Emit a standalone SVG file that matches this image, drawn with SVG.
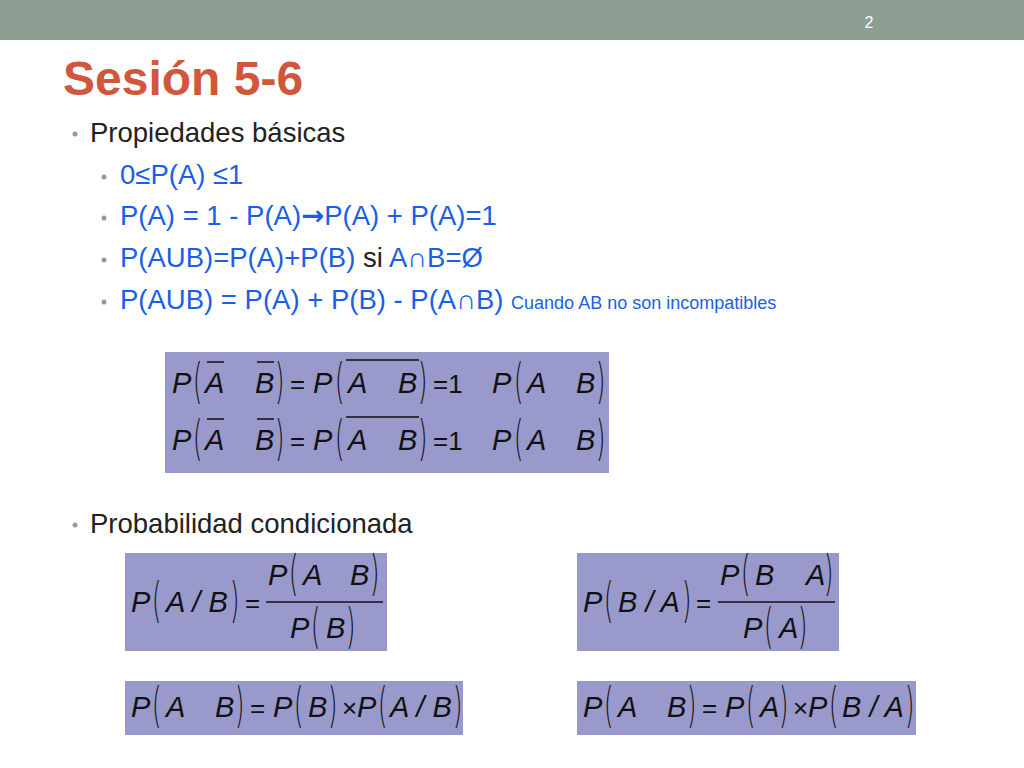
<svg xmlns="http://www.w3.org/2000/svg" width="1024" height="768" viewBox="0 0 1024 768">
<style>
.b{font-family:"Liberation Sans",Arial,sans-serif;font-size:27.5px;fill:#1a5fe6}
.k{fill:#222}
.dot{fill:#999}
.m{font-family:"Liberation Sans",Arial,sans-serif;font-size:29px;font-style:italic;fill:#111}
.n{font-family:"Liberation Sans",Arial,sans-serif;font-size:26px;fill:#111}
.p{font-family:"DejaVu Sans",sans-serif;font-size:30px;font-weight:200;fill:#111}
.box{fill:#9999cc}
.ln{stroke:#111;stroke-width:1.5}
</style>
<rect width="1024" height="768" fill="#fff"/>
<rect width="1024" height="40" fill="#8c9e92"/>
<text x="869" y="28" font-family="Liberation Sans,Arial,sans-serif" font-size="16" fill="#fff" text-anchor="middle">2</text>
<text x="63" y="95" font-family="Liberation Sans,Arial,sans-serif" font-size="48" font-weight="bold" fill="#d0563c">Sesión 5-6</text>
<g id="bullets">
<circle class="dot" cx="75" cy="134" r="2.5"/>
<text x="90" y="142" font-family="Liberation Sans,Arial,sans-serif" font-size="27.5" fill="#222">Propiedades básicas</text>
<circle class="dot" cx="104" cy="177" r="2.5"/>
<text class="b" x="120" y="184">0≤P(A) ≤1</text>
<circle class="dot" cx="104" cy="218" r="2.5"/>
<text class="b" x="120" y="225">P(A) = 1 - P(A)<tspan font-family="DejaVu Sans,sans-serif" font-weight="bold">→</tspan>P(A) + P(A)=1</text>
<circle class="dot" cx="104" cy="260" r="2.5"/>
<text class="b" x="120" y="267">P(AUB)=P(A)+P(B) <tspan class="k">si</tspan> A∩B=Ø</text>
<circle class="dot" cx="104" cy="302" r="2.5"/>
<text class="b" x="120" y="309">P(AUB) = P(A) + P(B) - P(A∩B) <tspan font-size="18">Cuando AB no son incompatibles</tspan></text>
<circle class="dot" cx="75" cy="525" r="2.5"/>
<text x="90" y="533" font-family="Liberation Sans,Arial,sans-serif" font-size="27.5" fill="#222">Probabilidad condicionada</text>
</g>
<g id="box1">
<rect class="box" x="165" y="352" width="444" height="121"/>
<g id="row1">
<text class="m" x="172" y="393">P</text><text class="p" transform="translate(193,398) scale(0.8,1.6)">(</text>
<text class="m" x="205" y="393">A</text><text class="m" x="255" y="393">B</text>
<line class="ln" x1="207" y1="362" x2="224" y2="362"/><line class="ln" x1="257" y1="362" x2="274" y2="362"/>
<text class="p" transform="translate(275,398) scale(0.8,1.6)">)</text><text class="n" x="290" y="393">=</text>
<text class="m" x="313" y="393">P</text><text class="p" transform="translate(335,398) scale(0.8,1.6)">(</text>
<text class="m" x="348" y="393">A</text><text class="m" x="398" y="393">B</text>
<line class="ln" x1="346" y1="360" x2="419" y2="360"/>
<text class="p" transform="translate(418,398) scale(0.8,1.6)">)</text><text class="n" x="433" y="393">=1</text>
<text class="m" x="492" y="393">P</text><text class="p" transform="translate(514,398) scale(0.8,1.6)">(</text>
<text class="m" x="527" y="393">A</text><text class="m" x="576" y="393">B</text>
<text class="p" transform="translate(596,398) scale(0.8,1.6)">)</text>
</g>
<use href="#row1" y="57"/>
</g>
<g id="box2">
<rect class="box" x="125" y="553" width="262" height="98"/>
<text class="m" x="131" y="612">P</text><text class="p" transform="translate(152,617) scale(0.8,1.6)">(</text>
<text class="m" x="166" y="612">A / B</text><text class="p" transform="translate(230,617) scale(0.8,1.6)">)</text>
<text class="n" x="245" y="612">=</text>
<text class="m" x="268" y="585">P</text><text class="p" transform="translate(289,590) scale(0.8,1.6)">(</text>
<text class="m" x="303" y="585">A</text><text class="m" x="350" y="585">B</text><text class="p" transform="translate(370,590) scale(0.8,1.6)">)</text>
<line class="ln" x1="266" y1="602" x2="383" y2="602"/>
<text class="m" x="290" y="638">P</text><text class="p" transform="translate(311,643) scale(0.8,1.6)">(</text>
<text class="m" x="326" y="638">B</text><text class="p" transform="translate(346,643) scale(0.8,1.6)">)</text>
</g>
<g id="box3">
<rect class="box" x="577" y="553" width="262" height="98"/>
<text class="m" x="583" y="612">P</text><text class="p" transform="translate(604,617) scale(0.8,1.6)">(</text>
<text class="m" x="618" y="612">B / A</text><text class="p" transform="translate(682,617) scale(0.8,1.6)">)</text>
<text class="n" x="696" y="612">=</text>
<text class="m" x="720" y="585">P</text><text class="p" transform="translate(741,590) scale(0.8,1.6)">(</text>
<text class="m" x="755" y="585">B</text><text class="m" x="806" y="585">A</text><text class="p" transform="translate(824,590) scale(0.8,1.6)">)</text>
<line class="ln" x1="718" y1="602" x2="835" y2="602"/>
<text class="m" x="743" y="638">P</text><text class="p" transform="translate(764,643) scale(0.8,1.6)">(</text>
<text class="m" x="779" y="638">A</text><text class="p" transform="translate(798,643) scale(0.8,1.6)">)</text>
</g>
<g id="box4">
<rect class="box" x="125" y="681" width="338" height="54"/>
<text class="m" x="131" y="717">P</text><text class="p" transform="translate(152,722) scale(0.8,1.6)">(</text>
<text class="m" x="166" y="717">A</text><text class="m" x="215" y="717">B</text><text class="p" transform="translate(235,722) scale(0.8,1.6)">)</text>
<text class="n" x="250" y="717">=</text>
<text class="m" x="273" y="717">P</text><text class="p" transform="translate(294,722) scale(0.8,1.6)">(</text>
<text class="m" x="308" y="717">B</text><text class="p" transform="translate(328,722) scale(0.8,1.6)">)</text>
<text class="n" x="342" y="717" font-size="22">×</text>
<text class="m" x="357" y="717">P</text><text class="p" transform="translate(378,722) scale(0.8,1.6)">(</text>
<text class="m" x="390" y="717">A / B</text><text class="p" transform="translate(453,722) scale(0.8,1.6)">)</text>
</g>
<g id="box5">
<rect class="box" x="577" y="681" width="339" height="54"/>
<text class="m" x="583" y="717">P</text><text class="p" transform="translate(604,722) scale(0.8,1.6)">(</text>
<text class="m" x="618" y="717">A</text><text class="m" x="667" y="717">B</text><text class="p" transform="translate(687,722) scale(0.8,1.6)">)</text>
<text class="n" x="702" y="717">=</text>
<text class="m" x="725" y="717">P</text><text class="p" transform="translate(746,722) scale(0.8,1.6)">(</text>
<text class="m" x="760" y="717">A</text><text class="p" transform="translate(779,722) scale(0.8,1.6)">)</text>
<text class="n" x="793" y="717" font-size="22">×</text>
<text class="m" x="808" y="717">P</text><text class="p" transform="translate(829,722) scale(0.8,1.6)">(</text>
<text class="m" x="842" y="717">B / A</text><text class="p" transform="translate(905,722) scale(0.8,1.6)">)</text>
</g>
</svg>
